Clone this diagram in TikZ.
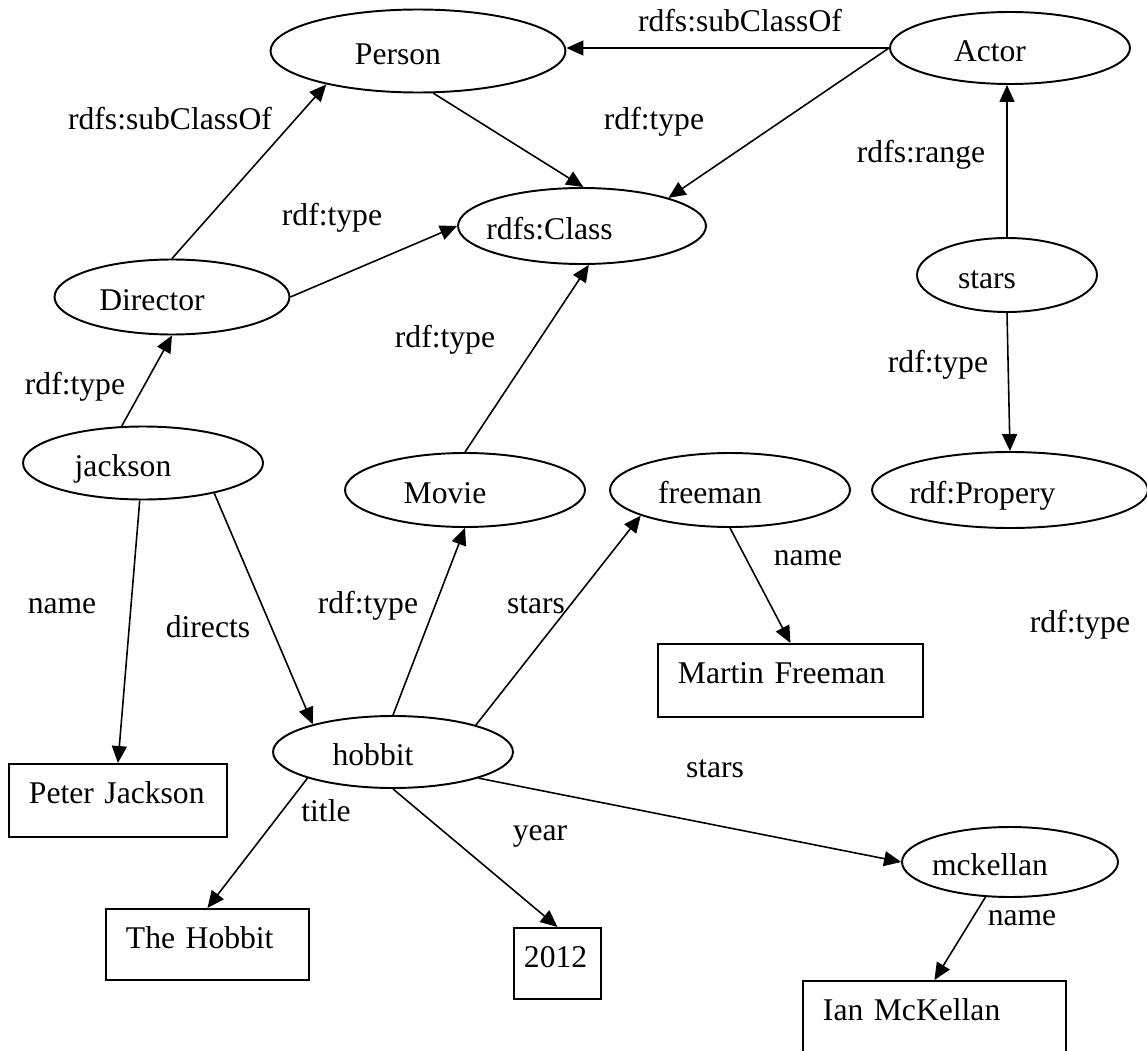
\documentclass[tikz,border=0pt]{standalone}
\usepackage{fontspec}
\setmainfont{Liberation Serif}
\usetikzlibrary{shapes.geometric,arrows.meta}
\begin{document}
\begin{tikzpicture}[x=0.02cm, y=-0.02cm,
    font=\fontsize{18}{21}\selectfont,
    res/.style={shape=ellipse, draw, line width=1.1pt, inner sep=0, text height=0.54cm, text depth=0pt, execute at begin node={\kern-0.8cm}},
    lit/.style={shape=rectangle, draw, line width=1.1pt, inner xsep=0.4cm, inner ysep=0, anchor=north west, align=left, text height=0.8cm},
    lbl/.style={anchor=base, inner sep=0},
    rel/.style={line width=0.9pt, -{Triangle[length=0.34cm, width=0.3cm]}}]
  \useasboundingbox (0, 0) rectangle (1147, 1051);
  % Resources (ellipses):
  \node[res, minimum width=5.9cm, minimum height=1.66cm] (person) at (418, 51) {Person};
  \node[res, minimum width=4.8cm, minimum height=1.44cm] (actor) at (1010, 48) {Actor};
  \node[res, minimum width=4.96cm, minimum height=1.52cm, execute at begin node={\kern-0.5cm}] (cls) at (582, 226) {rdfs:Class};
  \node[res, minimum width=4.7cm, minimum height=1.5cm] (director) at (172, 297) {Director};
  \node[res, minimum width=3.6cm, minimum height=1.48cm] (stars) at (1007, 275) {stars};
  \node[res, minimum width=4.8cm, minimum height=1.46cm] (jackson) at (143, 463) {jackson};
  \node[res, minimum width=4.8cm, minimum height=1.48cm] (movie) at (465, 490) {Movie};
  \node[res, minimum width=4.8cm, minimum height=1.48cm] (freeman) at (730, 490) {freeman};
  \node[res, minimum width=5.52cm, minimum height=1.52cm, execute at begin node={\kern-0.3cm}] (propery) at (1010, 490) {rdf:Propery};
  \node[res, minimum width=4.8cm, minimum height=1.44cm] (hobbit) at (393, 752) {hobbit};
  \node[res, minimum width=4.32cm, minimum height=1.4cm] (mckellan) at (1010, 862) {mckellan};
  % Literals (boxes):
  \node[lit, minimum width=4.36cm, text width=3.56cm, text depth=0.66cm] (pj) at (8, 763) {Peter Jackson};
  \node[lit, minimum width=5.3cm, text width=4.5cm, text depth=0.66cm] (mf) at (657, 643) {Martin Freeman};
  \node[lit, minimum width=4.06cm, text width=3.26cm, text depth=0.62cm] (th) at (105, 908) {The Hobbit};
  \node[lit, inner xsep=0.2cm, minimum width=1.74cm, text width=1.34cm, text depth=0.62cm] (yr) at (513, 927) {2012};
  \node[lit, minimum width=5.26cm, text width=4.46cm, text depth=0.62cm] (im) at (802, 980) {Ian McKellan};
  % Properties:
  \draw[rel] (actor.west) -- (person.east |- actor.west);
  \draw[rel] (actor.west) -- (cls.18);
  \draw[rel] (person.-70) -- (cls.88);
  \draw[rel] (director.north) -- (person.200);
  \draw[rel] (director.east) -- (cls.west);
  \draw[rel] (stars.north) -- (stars.north |- actor.south);
  \draw[rel] (stars.south) -- (propery.north);
  \draw[rel] (jackson.120) -- (director.south);
  \draw[rel] (movie.north) -- (cls.-80);
  \draw[rel] (jackson.-95) -- (pj.north);
  \draw[rel] (jackson.-23) -- (hobbit.161);
  \draw[rel] (hobbit.north) -- (movie.south);
  \draw[rel] (hobbit.18) -- (freeman.196);
  \draw[rel] (freeman.south) -- (mf.north);
  \draw[rel] (hobbit.-17) -- (mckellan.west);
  \draw[rel] (hobbit.197) -- (th.north);
  \draw[rel] (hobbit.south) -- (yr.north);
  \draw[rel] (mckellan.-125) -- (im.north);
  % Labels:
  \node[lbl] (l1) at (740, 32) {rdfs:subClassOf};
  \node[lbl] (l2) at (170, 130) {rdfs:subClassOf};
  \node[lbl] (l3) at (654, 130) {rdf:type};
  \node[lbl] (l4) at (921, 163) {rdfs:range};
  \node[lbl] (l5) at (332, 226) {rdf:type};
  \node[lbl] (l6) at (445, 347) {rdf:type};
  \node[lbl] (l7) at (75, 394) {rdf:type};
  \node[lbl] (l8) at (938, 372) {rdf:type};
  \node[lbl] (l9) at (62, 613) {name};
  \node[lbl] (l10) at (208, 637) {directs};
  \node[lbl] (l11) at (368, 613) {rdf:type};
  \node[lbl] (l12) at (536, 613) {stars};
  \node[lbl] (l13) at (808, 565) {name};
  \node[lbl] (l14) at (1080, 632) {rdf:type};
  \node[lbl] (l15) at (715, 777) {stars};
  \node[lbl] (l16) at (326, 821) {title};
  \node[lbl] (l17) at (540, 840) {year};
  \node[lbl] (l18) at (1022, 925) {name};
\end{tikzpicture}
\end{document}
